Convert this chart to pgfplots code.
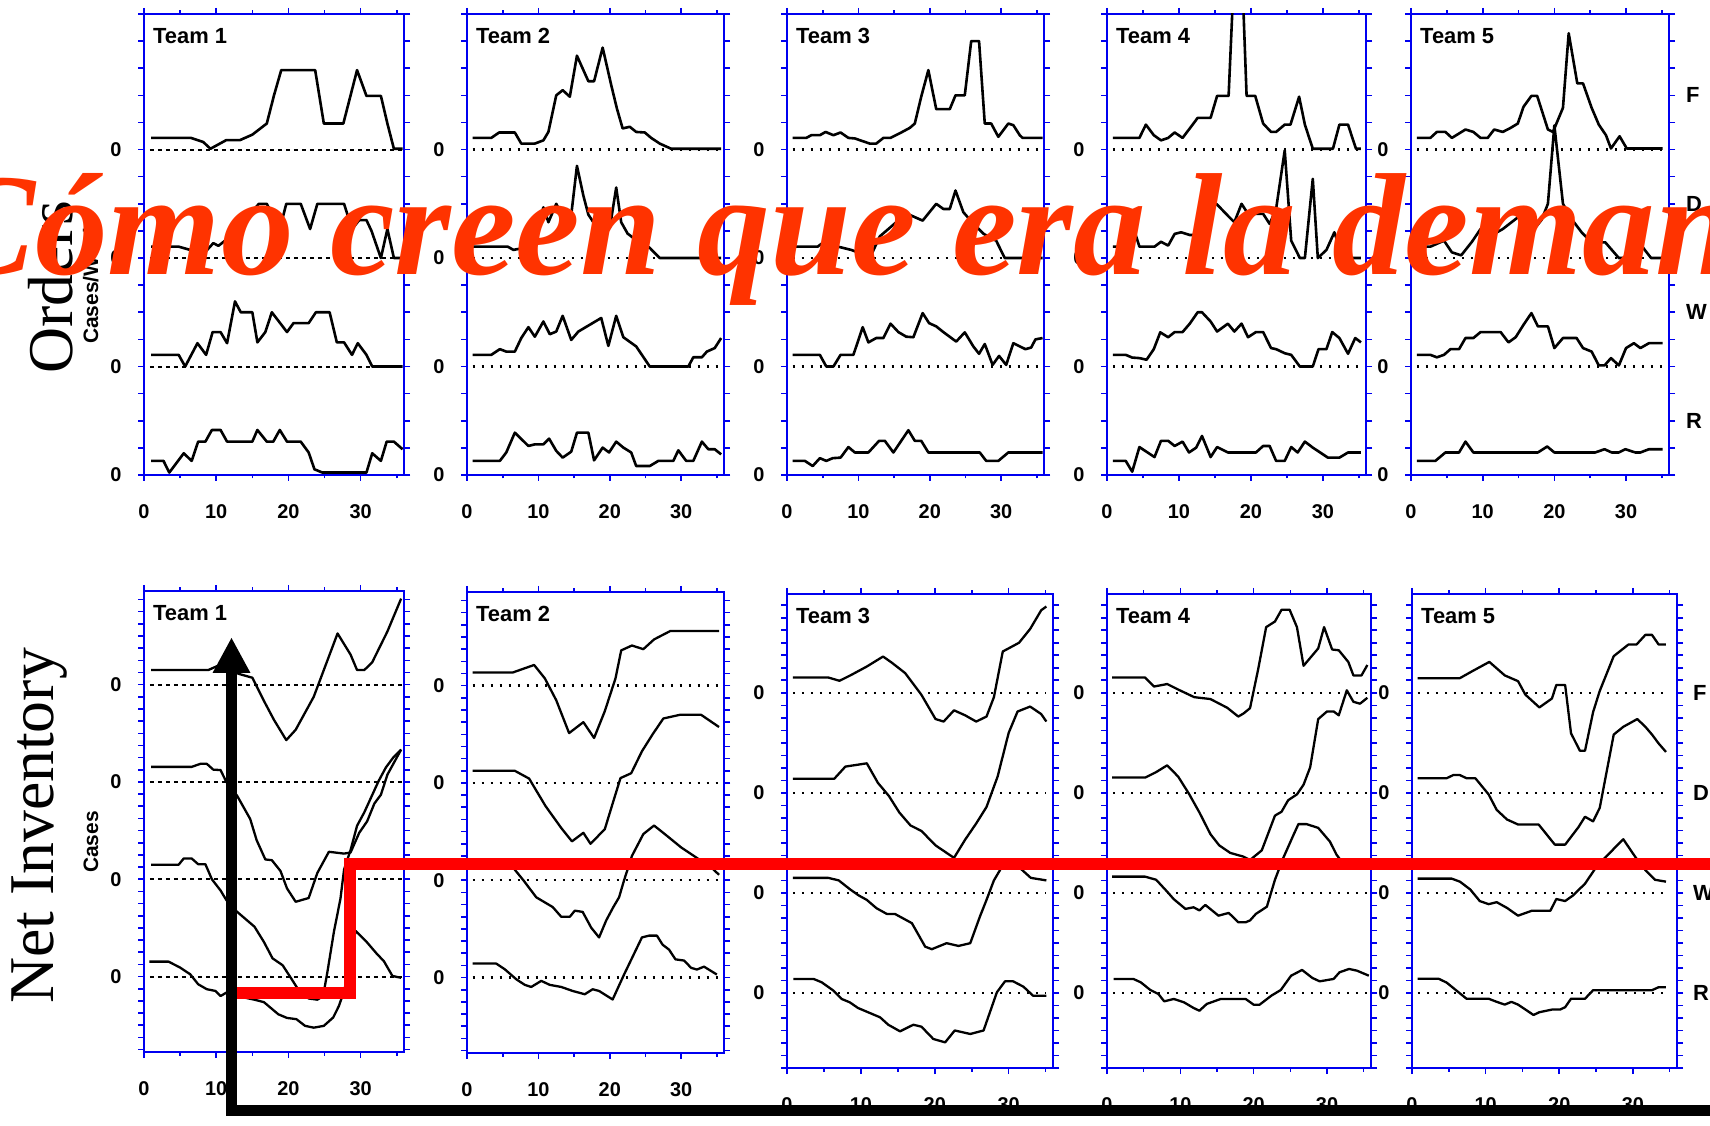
\documentclass[border=0pt]{standalone}
\usepackage{fontspec}
\usepackage{pgfplots}
\pgfplotsset{compat=1.18}
\setmainfont{Liberation Serif}
\newfontfamily\arial{Liberation Sans}
\definecolor{axblue}{HTML}{0000F0}
\definecolor{txtred}{HTML}{FF3300}
\newcommand\xlab{\arial\bfseries\fontsize{20}{20}\selectfont}
\newcommand\ylab{\arial\bfseries\fontsize{20}{20}\selectfont}
\newcommand\tlab{\arial\bfseries\fontsize{22}{22}\selectfont}

\tikzset{
  trc/.style={black, line width=2.6bp, line join=round},
  trb/.style={black, line width=2.3bp, line join=round},
  zdot/.style={black, line width=2.4bp, dash pattern=on 2.4bp off 6.6bp},
  zdash/.style={black, line width=2bp, dash pattern=on 4.5bp off 3.5bp},
}
% one trace, values relative to its own zero line
\newcommand\tr[2]{\addplot[trc, y filter/.expression={y+#1}] coordinates {#2};}
\newcommand\tb[2]{\addplot[trb, y filter/.expression={y+#1}] coordinates {#2};}

\pgfplotsset{
  panel/.style={scale only axis, anchor=south west, xmin=0, xmax=36,
    axis line style={axblue, line width=2bp},
    tick style={axblue, line width=1.6bp},
    tick align=outside, major tick length=6bp, minor tick length=3.5bp,
    xtick={0,10,20,30}, minor xtick={5,15,25,35}, xticklabels={0,10,20,30},
    yticklabels={},
    xticklabel style={font=\xlab, yshift=-20bp},
    yticklabel style={font=\ylab, xshift=-13bp},
  },
  toprow/.style={panel, ymin=0, ymax=17, ytick={0,...,17},
    extra y ticks={0,4,8,12}, extra y tick labels={0,0,0,0}},
  botrow/.style={panel, ytick={-6,...,31},
    extra y ticks={0,8,16,24}, extra y tick labels={0,0,0,0}},
}
\newcommand\team[1]{\node[anchor=north west, inner sep=0, font=\tlab] at (rel axis cs:0,1) [xshift=9bp, yshift=-14bp] {Team #1};}

\begin{document}
\begin{tikzpicture}[x=1bp,y=1bp]
\useasboundingbox (0,0) rectangle (1710,1125);
\clip (0,0) rectangle (1710,1125);

% ---------------- Orders ----------------
\begin{axis}[toprow, at={(144bp,650bp)}, width=260bp, height=461bp]
\team{1}
\addplot[zdash] coordinates {(0.8,12)(35.8,12)};
\addplot[zdash] coordinates {(0.8,8)(35.8,8)};
\addplot[zdash] coordinates {(0.8,4)(35.8,4)};
\tr{12}{(1,0.43)(6.5,0.43)(8.2,0.28)(9.2,0.03)(11.4,0.35)(13.3,0.35)(15,0.55)(17,0.96)(18,2.0)(19,2.93)(23.7,2.93)(24.9,0.96)(27.6,0.96)(29.5,2.93)(30.8,1.98)(32.8,1.98)(33.7,0.96)(34.6,0.03)(35.8,0.03)}
\tr{8}{(1,0.42)(4.8,0.42)(7.3,0.23)(8.5,0.23)(9.6,0.55)(10.3,0.45)(12,0.8)(14.3,1.5)(15.9,2.0)(17,2.0)(18.8,1.07)(19.7,2.0)(21.7,2.0)(23,1.07)(24,2.0)(27.7,2.0)(28.8,1.07)(29.8,1.4)(30.8,1.4)(31.5,1.0)(32.8,0)(33.7,1.07)(34.6,0)(35.8,0)}
\tr{4}{(1,0.43)(4.8,0.43)(5.7,0)(7.4,0.86)(8.6,0.43)(9.5,1.27)(10.6,1.27)(11.5,0.86)(12.6,2.4)(13.4,2.0)(15,2.0)(15.7,0.89)(16.8,1.27)(17.7,2.0)(19.8,1.27)(20.7,1.6)(22.8,1.6)(23.8,2.0)(25.7,2.0)(26.7,0.89)(27.7,0.89)(28.8,0.43)(29.6,0.86)(30.8,0.43)(31.6,0)(35.8,0)}
\tr{0}{(1,0.52)(2.7,0.52)(3.5,0.09)(5.5,0.8)(6.6,0.52)(7.5,1.23)(8.5,1.23)(9.4,1.66)(10.6,1.66)(11.5,1.23)(15,1.23)(15.7,1.66)(17,1.23)(17.9,1.23)(18.8,1.66)(19.8,1.23)(21.7,1.23)(22.8,0.83)(23.6,0.21)(24.7,0.09)(30.8,0.09)(31.6,0.8)(32.8,0.52)(33.6,1.23)(34.6,1.23)(35.8,0.95)}
\end{axis}

\begin{axis}[toprow, at={(467bp,650bp)}, width=257bp, height=461bp]
\team{2}
\addplot[zdot] coordinates {(0.8,12)(35.6,12)};
\addplot[zdot] coordinates {(0.8,8)(35.6,8)};
\addplot[zdot] coordinates {(0.8,4)(35.6,4)};
\tr{12}{(0.8,0.43)(3.4,0.43)(4.5,0.63)(6.7,0.63)(7.6,0.22)(9.5,0.22)(10.7,0.34)(11.4,0.65)(12.5,2.0)(13.4,2.19)(14.4,1.95)(15.4,3.46)(17,2.52)(17.8,2.52)(19,3.76)(20.2,2.38)(21,1.51)(21.8,0.78)(22.8,0.84)(23.7,0.65)(24.9,0.63)(25.8,0.43)(27,0.22)(28.6,0.03)(35.6,0.03)}
\tr{8}{(0.8,0.42)(5.7,0.42)(6.5,0.3)(8.5,0.4)(9.8,1.1)(10.7,1.87)(11.4,1.32)(12.5,2.0)(13.5,1.5)(14.6,1.59)(15.4,3.4)(16.3,2.3)(17,1.6)(18,1.2)(19,1.07)(20,1.1)(20.9,2.6)(21.6,1.32)(22.5,0.9)(23.5,0.7)(24.9,0.33)(25.5,0.4)(27,0)(35.6,0)}
\tr{4}{(0.8,0.43)(3.4,0.43)(4.6,0.64)(5.5,0.55)(6.7,0.55)(7.6,1.05)(8.6,1.45)(9.5,1.1)(10.7,1.66)(11.6,1.19)(12.5,1.29)(13.4,1.87)(14.6,0.98)(15.6,1.29)(18.8,1.79)(19.8,0.76)(20.9,1.87)(21.9,1.08)(23.7,0.74)(25.6,0)(31,0)(31.7,0.34)(32.9,0.34)(33.6,0.55)(34.7,0.68)(35.6,1.05)}
\tr{0}{(0.8,0.52)(4.6,0.52)(5.5,0.83)(6.7,1.56)(8.6,1.07)(9.5,1.13)(10.7,1.13)(11.5,1.34)(12.5,0.89)(13.4,0.64)(14.6,0.86)(15.4,1.56)(17,1.56)(17.8,0.54)(19,1.01)(19.9,0.83)(20.9,1.23)(21.9,1.01)(23,0.83)(23.7,0.33)(25.6,0.33)(26.8,0.52)(28.9,0.52)(29.6,0.91)(30.7,0.52)(31.7,0.52)(32.9,1.23)(33.8,0.95)(34.7,0.95)(35.6,0.76)}
\end{axis}

\begin{axis}[toprow, at={(787bp,650bp)}, width=257bp, height=461bp]
\team{3}
\addplot[zdot] coordinates {(0.8,12)(35.8,12)};
\addplot[zdot] coordinates {(0.8,8)(35.8,8)};
\addplot[zdot] coordinates {(0.8,4)(35.8,4)};
\tr{12}{(0.8,0.43)(2.7,0.43)(3.4,0.53)(4.6,0.53)(5.4,0.65)(6.5,0.53)(7.5,0.63)(8.6,0.43)(9.5,0.41)(11.6,0.22)(12.5,0.22)(13.5,0.43)(14.5,0.43)(16,0.63)(17.2,0.8)(17.9,0.96)(18.8,1.95)(19.8,2.93)(20.9,1.49)(22.8,1.49)(23.6,2.0)(24.9,2.0)(25.8,4.0)(26.9,4.0)(27.7,0.96)(28.6,0.96)(29.6,0.47)(31,0.96)(31.7,0.9)(32.6,0.53)(33,0.43)(35.8,0.43)}
\tr{8}{(0.8,0.42)(4.3,0.42)(5.4,0.64)(6.5,0.46)(7.6,0.39)(9,0.3)(10.5,0.15)(11.6,0)(13,0.8)(15.3,1.32)(17.2,1.59)(19,1.38)(20.9,2.0)(21.9,1.81)(22.8,1.81)(23.6,2.49)(24.7,1.69)(26,1.3)(27.5,0.9)(28.4,0.76)(29.3,0.64)(30.5,0)(35.8,0)}
\tr{4}{(0.8,0.43)(4.6,0.43)(5.5,0)(6.5,0)(7.5,0.43)(9.3,0.43)(10.6,1.45)(11.4,0.89)(12.5,1.05)(13.5,1.05)(14.5,1.58)(15.6,1.27)(16.7,1.1)(17.7,1.08)(19,1.97)(19.9,1.6)(20.9,1.48)(21.9,1.27)(23.7,0.92)(24.9,1.26)(26.1,0.74)(26.9,0.47)(27.7,0.83)(28.8,0.06)(29.7,0.39)(30.7,0.06)(31.7,0.86)(33.4,0.64)(34.2,0.7)(34.8,1.0)(35.8,1.05)}
\tr{0}{(0.8,0.52)(2.5,0.52)(3.6,0.33)(4.6,0.62)(5.5,0.52)(6.4,0.62)(7.5,0.64)(8.6,1.03)(9.5,0.83)(11.4,0.83)(12.9,1.26)(13.7,1.26)(14.9,0.83)(17,1.65)(17.9,1.26)(18.8,1.26)(19.8,0.83)(27,0.83)(27.9,0.52)(29.6,0.52)(31,0.83)(35.8,0.83)}
\end{axis}

\begin{axis}[toprow, at={(1107bp,650bp)}, width=259bp, height=461bp]
\team{4}
\addplot[zdot] coordinates {(0.8,12)(35.5,12)};
\addplot[zdot] coordinates {(0.8,8)(35.5,8)};
\addplot[zdot] coordinates {(0.8,4)(35.5,4)};
\tr{12}{(0.8,0.43)(4.5,0.43)(5.4,0.92)(6.5,0.53)(7.5,0.34)(8.5,0.43)(9.4,0.63)(10.5,0.43)(11.5,0.78)(12.6,1.17)(14.4,1.17)(15.3,1.98)(16.9,1.98)(17.5,5.6)(18.9,5.6)(19.4,1.98)(20.6,1.98)(21.7,0.96)(22.8,0.65)(23.5,0.65)(24.7,0.92)(25.5,0.92)(26.7,1.95)(27.5,0.92)(28.6,0.03)(31.4,0.03)(32.3,0.92)(33.5,0.92)(34.6,0.03)(35.3,0.03)}
\tr{8}{(0.8,0.42)(2.6,0.42)(3.5,1.26)(4.5,0.42)(6.6,0.42)(7.5,0.6)(8.5,0.46)(9.4,0.89)(10.3,0.95)(11.5,0.85)(12.4,0.85)(14.4,2.0)(15.2,2.0)(16.8,1.56)(17.7,1.32)(18.7,2.0)(19.6,1.63)(21.7,1.63)(22.6,1.26)(23.5,1.81)(24.7,3.97)(25.6,0.64)(26.8,0)(27.5,0)(28.6,2.92)(29.3,0)(30.5,0.3)(31.6,0.95)(32.8,0)(35.3,0)}
\tr{4}{(0.8,0.43)(2.6,0.43)(3.5,0.33)(4.5,0.31)(5.5,0.25)(6.5,0.64)(7.4,1.26)(8.5,1.08)(9.4,1.27)(10.5,1.27)(11.5,1.58)(12.6,2.0)(13.2,2.0)(14.4,1.66)(15.3,1.29)(16.8,1.58)(17.7,1.29)(18.7,1.58)(19.6,1.08)(20.7,1.27)(21.7,1.27)(22.8,0.68)(23.5,0.64)(24.7,0.49)(25.6,0.43)(26.8,0)(28.6,0)(29.4,0.64)(30.5,0.64)(31.3,1.27)(32.3,1.05)(33.5,0.47)(34.5,1.05)(35.3,0.89)}
\tr{0}{(0.8,0.52)(2.6,0.52)(3.5,0.12)(4.5,1.03)(6.6,0.66)(7.5,1.26)(8.5,1.26)(9.4,1.07)(10.5,1.23)(11.4,0.83)(12.4,1.01)(13.2,1.44)(14.4,0.66)(15.3,1.03)(16.8,0.83)(20.7,0.83)(21.7,1.07)(22.6,1.07)(23.5,0.52)(24.7,0.52)(25.6,1.03)(26.5,0.83)(27.5,1.23)(28.6,1.01)(30.7,0.64)(32.3,0.64)(33.5,0.83)(35.3,0.83)}
\end{axis}

\begin{axis}[toprow, at={(1411bp,650bp)}, width=258bp, height=461bp, clip=false]
\team{5}
\addplot[zdot] coordinates {(0.8,12)(35.1,12)};
\addplot[zdot] coordinates {(0.8,8)(35.1,8)};
\addplot[zdot] coordinates {(0.8,4)(35.1,4)};
\tr{12}{(0.8,0.43)(2.7,0.43)(3.6,0.65)(4.8,0.65)(5.7,0.43)(7.6,0.74)(8.7,0.65)(9.7,0.43)(10.7,0.43)(11.6,0.74)(12.8,0.65)(13.9,0.8)(14.9,0.96)(15.7,1.58)(16.8,1.98)(17.6,1.98)(19.1,0.74)(19.8,0.65)(21.2,1.54)(22,4.29)(23.2,2.44)(24,2.44)(25.2,1.54)(26.2,0.92)(27.2,0.53)(27.9,0.04)(29.1,0.49)(30.1,0.04)(35.1,0.04)}
\tr{8}{(0.8,0.42)(2.7,0.42)(4.6,0.64)(5.7,0.21)(7,0.1)(8.5,0.6)(9.7,1.07)(10.7,1.07)(11.6,0.89)(12.8,1.07)(14.9,1.5)(15.7,1.46)(16.8,0.95)(18.2,1.4)(19.1,2.0)(20,4.89)(21.2,2.0)(22.4,1.44)(23.8,0.95)(25.2,0.58)(27.1,0.58)(29,0)(31.3,0)(32,0.52)(32.7,0.27)(33.5,0)(35.1,0)}
\tr{4}{(0.8,0.43)(2.7,0.43)(3.6,0.34)(4.6,0.43)(5.5,0.64)(6.7,0.64)(7.6,1.05)(8.7,1.05)(9.7,1.27)(12.5,1.27)(13.6,0.89)(14.6,1.08)(15.7,1.54)(16.8,1.97)(17.7,1.48)(19.1,1.48)(20,0.68)(21.2,1.05)(23.1,1.05)(24,0.68)(25.2,0.55)(26.2,0.04)(27,0.04)(27.9,0.31)(29,0.04)(30,0.68)(31.1,0.86)(32,0.68)(33.2,0.86)(35.1,0.86)}
\tr{0}{(0.8,0.52)(3.4,0.52)(4.8,0.83)(6.7,0.83)(7.6,1.23)(8.7,0.83)(17.7,0.83)(19,1.05)(20,0.83)(25.7,0.83)(27,0.95)(28,0.83)(29,0.83)(29.9,0.95)(31.3,0.83)(32,0.83)(33.2,0.95)(35.1,0.95)}
\node[font=\tlab, anchor=west, inner sep=0] at (axis cs:36,14) [xshift=17bp] {F};
\node[font=\tlab, anchor=west, inner sep=0] at (axis cs:36,10) [xshift=17bp] {D};
\node[font=\tlab, anchor=west, inner sep=0] at (axis cs:36,6) [xshift=17bp] {W};
\node[font=\tlab, anchor=west, inner sep=0] at (axis cs:36,2) [xshift=17bp] {R};
\end{axis}

% ---------------- Net Inventory ----------------
\begin{axis}[botrow, ymin=-6.2, ymax=31.7, at={(144bp,73bp)}, width=260bp, height=461bp]
\team{1}
\addplot[zdash] coordinates {(0.8,24)(35.8,24)};
\addplot[zdash] coordinates {(0.8,16)(35.8,16)};
\addplot[zdash] coordinates {(0.8,8)(35.8,8)};
\addplot[zdash] coordinates {(0.8,0)(35.8,0)};
\tb{24}{(1,1.2)(8.9,1.2)(10.1,1.52)(11.5,1.3)(13.1,0.89)(15,0.57)(16.6,-1.33)(18,-2.9)(19.7,-4.56)(21,-3.71)(23.5,-1.0)(26.8,4.21)(28.6,2.47)(29.5,1.2)(30.5,1.2)(31.6,1.84)(33.7,4.37)(35.6,7.07)}
\tb{16}{(1,1.24)(6.6,1.24)(7.8,1.49)(8.7,1.49)(9.6,1.01)(10.6,0.98)(11.4,0)(12.9,-1.14)(14.7,-3.04)(15.6,-4.79)(16.8,-6.37)(17.7,-6.43)(18.9,-7.32)(19.8,-8.75)(21,-9.85)(22.8,-9.54)(24,-7.48)(25.6,-5.74)(27.7,-5.89)(28.6,-5.8)(29.8,-4.18)(30.9,-3.23)(31.9,-1.77)(32.8,-1.05)(33.7,0.6)(35.6,2.66)}
\tb{8}{(1,1.2)(4.8,1.2)(5.5,1.71)(6.6,1.71)(7.5,1.24)(8.5,1.24)(9.4,0)(10.6,-0.92)(11.4,-1.71)(12.9,-2.68)(15.3,-3.9)(16.6,-5.15)(17.8,-6.5)(19.2,-7.07)(20.4,-8.17)(21.5,-9.2)(22.8,-9.8)(24,-9.9)(24.8,-9.6)(25.4,-7.6)(26.3,-4.3)(27.2,-1.6)(27.7,0.8)(28.6,2.4)(29.5,4.4)(30.5,5.5)(31.5,6.8)(32.5,8.1)(33.5,9.2)(34.5,10)(35.6,10.66)}
\tb{0}{(0.74,1.23)(3.4,1.23)(5,0.74)(6.4,0.19)(7.5,-0.63)(8.7,-1.04)(9.9,-1.18)(10.6,-1.6)(11.4,-1.32)(12.2,-1.5)(12.9,-1.6)(15.3,-1.9)(16.6,-2.1)(18.6,-3.1)(19.8,-3.4)(21.1,-3.5)(22.3,-4.05)(23.5,-4.2)(24.9,-4.05)(26.2,-3.36)(27,-2.4)(27.8,-1.0)(28.5,1.5)(29.3,3.75)(30.9,2.8)(32.3,1.83)(33.2,1.28)(34.4,0.05)(35.6,-0.1)}
\end{axis}

\begin{axis}[botrow, ymin=-6.2, ymax=31.7, at={(467bp,72bp)}, width=257bp, height=461bp]
\team{2}
\addplot[zdot] coordinates {(0.8,24)(35.3,24)};
\addplot[zdot] coordinates {(0.8,16)(35.3,16)};
\addplot[zdot] coordinates {(0.8,8)(35.3,8)};
\addplot[zdot] coordinates {(0.8,0)(35.3,0)};
\tb{24}{(0.8,1.08)(6.4,1.08)(9.4,1.7)(10.9,0.6)(12.5,-1.2)(14.3,-3.9)(16.3,-3.0)(17.8,-4.3)(19.3,-2.1)(20.8,0.6)(21.6,2.9)(23.1,3.3)(24.7,3.0)(26.2,3.8)(28.5,4.5)(35.3,4.5)}
\tb{16}{(0.8,1.0)(6.7,1.0)(8.7,0.36)(11,-1.9)(13.2,-3.7)(14.7,-4.8)(16.3,-4.1)(17.3,-5.0)(18.3,-4.4)(19.3,-3.8)(20.5,-1.5)(21.5,0.4)(23,0.8)(24.5,2.6)(26,4.0)(27.5,5.3)(29.8,5.6)(32.8,5.6)(35.3,4.6)}
\tb{8}{(0.8,1.08)(6.4,1.08)(7.9,0)(9.7,-1.4)(12,-2.2)(13.2,-3.0)(14.4,-3.0)(15.1,-2.5)(16.2,-2.6)(17.4,-3.9)(18.5,-4.7)(19.5,-3.3)(20.5,-2.2)(21.3,-1.4)(22,0)(23.1,2.0)(24.7,3.8)(26.2,4.5)(27.7,3.8)(30,2.7)(32.3,1.8)(34.5,0.9)(35.3,0.45)}
\tb{0}{(0.8,1.15)(4.1,1.15)(5.3,0.68)(6.9,-0.14)(8.1,-0.6)(9,-0.77)(10.4,-0.27)(11.6,-0.6)(13.2,-0.77)(14.8,-1.1)(16.5,-1.37)(17.6,-0.96)(18.5,-1.1)(20.4,-1.8)(22,0.25)(24.5,3.3)(25.5,3.45)(26.6,3.45)(27.4,2.7)(28.3,2.3)(29.2,1.5)(30.4,1.4)(31.4,0.8)(32.2,0.66)(33.2,0.9)(35,0.25)}
\end{axis}

\begin{axis}[botrow, ymin=-6, ymax=31.9, at={(787bp,57bp)}, width=266bp, height=474bp]
\team{3}
\addplot[zdot] coordinates {(0.8,24)(35.1,24)};
\addplot[zdot] coordinates {(0.8,16)(35.1,16)};
\addplot[zdot] coordinates {(0.8,8)(35.1,8)};
\addplot[zdot] coordinates {(0.8,0)(35.1,0)};
\tb{24}{(0.8,1.22)(5.6,1.22)(7.1,0.96)(8.6,1.4)(10.8,2.1)(13,2.9)(14.2,2.4)(16,1.57)(18.2,-0.17)(20.1,-2.1)(21.2,-2.3)(22.6,-1.4)(24.1,-1.8)(25.6,-2.3)(27,-1.9)(28,-0.35)(29.2,3.3)(31.4,4.0)(32.9,5.1)(34.4,6.6)(35.1,6.9)}
\tb{16}{(0.8,1.13)(6.4,1.13)(7.9,2.1)(10.8,2.36)(12.3,0.8)(13.8,-0.26)(15.2,-1.57)(16.7,-2.6)(18.2,-3.05)(20.1,-4.2)(22.6,-5.2)(24.1,-3.75)(25.6,-2.45)(27,-1.13)(28.5,1.3)(30,4.8)(31.2,6.5)(32.9,6.9)(34.4,6.3)(35.1,5.7)}
\tb{8}{(0.8,1.2)(5.6,1.2)(7,1.0)(8.5,0.3)(9.7,-0.2)(10.8,-0.56)(12.1,-1.22)(13.5,-1.68)(14.6,-1.68)(16.9,-2.42)(18.7,-4.3)(19.6,-4.5)(21.6,-4.02)(23.2,-4.24)(24.8,-4.02)(26.1,-1.9)(27,-0.56)(28,1.0)(29.5,2.5)(30.5,2.6)(31.5,2.0)(33,1.2)(35.1,1.0)}
\tb{0}{(0.86,1.12)(3.6,1.12)(4.7,0.85)(6.3,0.18)(7.4,-0.48)(8.5,-0.75)(9.6,-1.2)(11,-1.55)(12.6,-1.95)(13.7,-2.54)(15.3,-3.07)(17.1,-2.54)(18.2,-2.7)(19.8,-3.68)(21.4,-3.95)(22.7,-3.0)(24.8,-3.28)(26.6,-3.0)(28.4,0.05)(29.5,0.93)(30.6,0.93)(32,0.5)(33.3,-0.22)(35.1,-0.22)}
\end{axis}

\begin{axis}[botrow, ymin=-6, ymax=31.9, at={(1107bp,57bp)}, width=264bp, height=474bp]
\team{4}
\addplot[zdot] coordinates {(0.8,24)(35.6,24)};
\addplot[zdot] coordinates {(0.8,16)(35.6,16)};
\addplot[zdot] coordinates {(0.8,8)(35.6,8)};
\addplot[zdot] coordinates {(0.8,0)(35.6,0)};
\tb{24}{(0.7,1.22)(5.2,1.22)(6.4,0.5)(8.2,0.7)(9.7,0.26)(11.9,-0.35)(14.1,-0.5)(16.4,-1.2)(17.9,-1.9)(18.6,-1.66)(19.5,-1.23)(20.6,1.85)(21.7,5.25)(22.9,5.7)(23.8,6.64)(24.9,6.64)(25.9,5.25)(26.8,2.16)(28.8,3.55)(29.6,5.25)(30.7,3.46)(31.6,3.4)(32.9,2.47)(33.6,1.39)(34.7,1.39)(35.5,2.22)}
\tb{16}{(0.7,1.22)(5.2,1.22)(6.7,1.66)(8.2,2.2)(9.7,1.3)(11.2,-0.1)(12.6,-1.57)(14.1,-3.3)(15.3,-4.2)(16.8,-4.8)(18.6,-5.1)(19.5,-5.37)(21.1,-4.6)(21.8,-3.52)(22.9,-1.82)(23.8,-1.51)(24.7,-0.59)(25.9,-0.12)(26.8,0.65)(27.7,2.04)(28.8,5.9)(30,6.51)(30.9,6.51)(31.6,6.2)(32.7,8.2)(33.6,7.28)(34.5,7.13)(35.5,7.6)}
\tb{8}{(0.7,1.3)(5.2,1.3)(6.7,1.05)(8.2,0.1)(9.1,-0.5)(10.7,-1.28)(11.8,-1.15)(12.6,-1.4)(13.4,-0.96)(15.2,-1.82)(16.6,-1.6)(17.9,-2.35)(18.9,-2.35)(19.5,-2.2)(20.3,-1.68)(21.8,-1.1)(22.9,1.05)(24,2.75)(25.4,4.6)(26.1,5.5)(27.2,5.5)(28.8,5.2)(30.4,4.1)(31.3,3.05)(32.7,1.98)(35.5,1.98)}
\tb{0}{(0.9,1.12)(3.6,1.12)(4.6,0.85)(5.9,0.24)(7,-0.08)(7.8,-0.67)(9.1,-0.48)(10.5,-0.75)(11.8,-1.2)(12.6,-1.42)(13.6,-0.88)(15.5,-0.48)(18.9,-0.48)(20,-0.94)(20.8,-0.94)(22.4,-0.22)(23.7,0.24)(25.1,1.38)(26.6,1.84)(28,1.2)(29,0.93)(30.9,1.12)(31.7,1.65)(33,1.92)(34.1,1.78)(35.7,1.38)}
\end{axis}

\begin{axis}[botrow, ymin=-6, ymax=31.9, at={(1412bp,57bp)}, width=265bp, height=474bp, clip=false]
\team{5}
\addplot[zdot] coordinates {(0.8,24)(34.5,24)};
\addplot[zdot] coordinates {(0.8,16)(34.5,16)};
\addplot[zdot] coordinates {(0.8,8)(34.5,8)};
\addplot[zdot] coordinates {(0.8,0)(34.5,0)};
\tb{24}{(0.77,1.17)(6.5,1.17)(8.1,1.7)(10.5,2.47)(12.6,1.39)(14.4,0.93)(15.4,-0.15)(17.3,-1.17)(19,-0.46)(19.6,0.62)(20.8,0.62)(21.6,-3.24)(22.8,-4.63)(23.5,-4.63)(24.6,-1.54)(25.5,0.15)(27.4,2.93)(29.4,3.86)(30.5,3.86)(31.7,4.63)(32.6,4.63)(33.5,3.86)(34.5,3.86)}
\tb{16}{(0.77,1.17)(4.7,1.17)(5.6,1.42)(6.5,1.42)(7.4,1.17)(8.6,1.17)(10.4,-0.12)(11.5,-1.36)(12.9,-2.13)(14.4,-2.53)(17.2,-2.53)(19.4,-4.14)(20.8,-4.14)(22.6,-2.75)(23.5,-1.91)(24.6,-2.28)(25.5,-1.2)(27.4,4.66)(28.7,5.28)(30.6,5.9)(31.7,5.28)(32.6,4.66)(33.5,3.95)(34.5,3.27)}
\tb{8}{(0.77,1.14)(5.4,1.14)(6.5,0.9)(7.9,0.28)(9.2,-0.65)(10.4,-0.9)(11.5,-0.74)(12.9,-1.2)(14.4,-1.82)(16.3,-1.42)(18.8,-1.42)(19.6,-0.49)(20.8,-0.65)(21.9,-0.19)(23.5,0.74)(25.1,2.13)(27.4,3.52)(28.7,4.29)(30.3,2.9)(31.7,1.82)(33,1.05)(34.5,0.9)}
\tb{0}{(0.77,1.14)(3.6,1.14)(4.7,0.83)(5.6,0.4)(7.4,-0.46)(10.4,-0.46)(11.5,-0.71)(12.6,-0.93)(13.5,-0.71)(14.4,-0.93)(16.5,-1.76)(17.3,-1.54)(19,-1.33)(20.1,-1.33)(20.8,-1.14)(21.6,-0.46)(23.5,-0.46)(24.6,0.22)(32.6,0.22)(33.5,0.46)(34.5,0.46)}
\node[font=\tlab, anchor=west, inner sep=0] at (axis cs:36,24) [xshift=16bp] {F};
\node[font=\tlab, anchor=west, inner sep=0] at (axis cs:36,16) [xshift=16bp] {D};
\node[font=\tlab, anchor=west, inner sep=0] at (axis cs:36,8) [xshift=16bp] {W};
\node[font=\tlab, anchor=west, inner sep=0] at (axis cs:36,0) [xshift=16bp] {R};
\end{axis}

% side titles
\node[rotate=90, anchor=base, inner sep=0, font=\fontsize{64}{64}\selectfont] at (72,838) {Orders};
\node[rotate=90, anchor=base, inner sep=0, font=\fontsize{64}{64}\selectfont] at (53,299) {Net Inventory};
\node[rotate=90, anchor=base, inner sep=0, font=\arial\bfseries\fontsize{21}{21}\selectfont] at (98,842) {Cases/Week};
\node[rotate=90, anchor=base, inner sep=0, font=\arial\bfseries\fontsize{21}{21}\selectfont] at (98,283) {Cases};

% overlaid question
\node[anchor=base west, inner sep=0, text=txtred, font=\bfseries\itshape\fontsize{146}{146}\selectfont] at (-62,850) {Cómo creen que era la demanda?};

% overlaid arrow and step
\begin{axis}[at={(0bp,0bp)}, anchor=south west, scale only axis, width=1710bp, height=1125bp,
  xmin=0, xmax=1710, ymin=0, ymax=1125, hide axis, clip=false]
\addplot[red, line width=11.5bp, line join=miter] coordinates {(232,132)(350,132)(350,261)(1725,261)};
\addplot[black, line width=11bp, line join=miter] coordinates {(231.5,455)(231.5,15)(1725,15)};
\addplot[fill=black, draw=none] coordinates {(212.5,452)(250.5,452)(231.5,487)} -- cycle;
\end{axis}
\end{tikzpicture}
\end{document}
